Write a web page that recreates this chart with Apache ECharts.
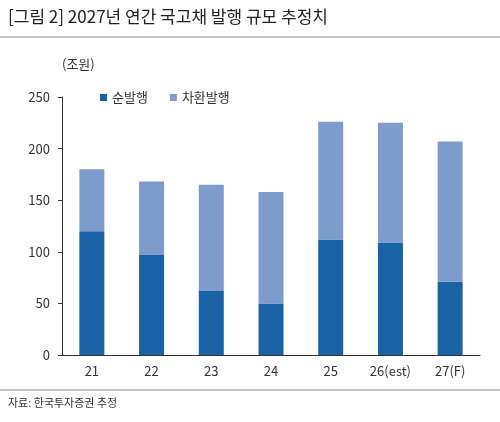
<!DOCTYPE html>
<html>
<head>
<meta charset="UTF-8">
<script src="https://cdn.jsdelivr.net/npm/echarts@6/dist/echarts.min.js"></script>
<style>
    body { margin: 0; background: #fff; }
    #chart { width: 500px; height: 422px; }
</style>
</head>
<body>
<div id="chart"></div>
<script>
var categories = ['21', '22', '23', '24', '25', '26(est)', '27(F)'];
var netIssue = [120, 97, 62, 50, 112, 109, 71];
var refinance = [60, 71, 103, 108, 114, 116, 136];
var yTicks = [0, 50, 100, 150, 200, 250];

var font = '"Noto Sans CJK KR", sans-serif';
var chart = echarts.init(document.getElementById('chart'));

chart.setOption({
    textStyle: { fontFamily: font },
    graphic: [
        { type: 'text', left: 8, top: 8, style: { text: '[그림 2] 2027년 연간 국고채 발행 규모 추정치', fontSize: 17, fill: '#222', fontFamily: font } },
        { type: 'line', shape: { x1: 0, y1: 37, x2: 500, y2: 37 }, style: { stroke: '#888', lineWidth: 1 } },
        { type: 'text', left: 62, top: 58, style: { text: '(조원)', fontSize: 13, fill: '#333', fontFamily: font } },
        { type: 'line', shape: { x1: 0, y1: 390, x2: 500, y2: 390 }, style: { stroke: '#888', lineWidth: 1 } },
        { type: 'text', left: 8, top: 397, style: { text: '자료: 한국투자증권 추정', fontSize: 11, fill: '#333', fontFamily: font } }
    ],
    legend: {
        left: 95, top: 86, itemWidth: 7, itemHeight: 7, itemGap: 22,
        icon: 'rect',
        textStyle: { fontSize: 13, color: '#333' },
        data: ['순발행', '차환발행']
    },
    grid: { left: 62, right: 20, top: 97, bottom: 67 },
    xAxis: {
        type: 'category', data: categories,
        axisLine: { lineStyle: { color: '#333' } },
        axisTick: { show: false },
        axisLabel: { color: '#333', fontSize: 13, margin: 10 }
    },
    yAxis: {
        type: 'value', min: 0, max: 250, interval: 50,
        axisLine: { show: true, lineStyle: { color: '#333' } },
        axisTick: { show: true, inside: false, length: 4 },
        splitLine: { show: false },
        axisLabel: { color: '#333', fontSize: 13, margin: 12,
            formatter: function (v) { return yTicks.indexOf(v) >= 0 ? v : ''; } }
    },
    series: [
        { name: '순발행', type: 'bar', stack: 'a', barWidth: 25, data: netIssue, itemStyle: { color: '#1a62a6' } },
        { name: '차환발행', type: 'bar', stack: 'a', barWidth: 25, data: refinance, itemStyle: { color: '#7d9ccb' } }
    ]
});
</script>
</body>
</html>
